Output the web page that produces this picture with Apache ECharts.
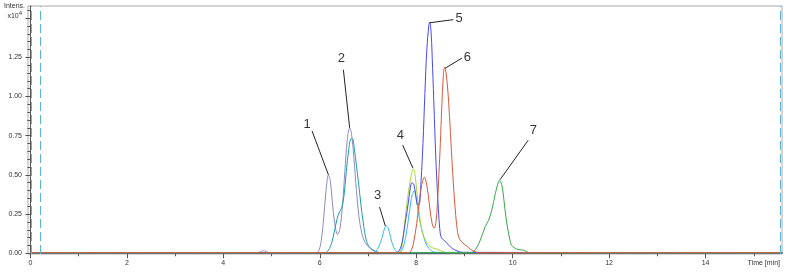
<!DOCTYPE html>
<html>
<head>
<meta charset="utf-8">
<script src="https://cdn.jsdelivr.net/npm/echarts@6/dist/echarts.min.js"></script>
<style>
  html, body { margin: 0; padding: 0; background: #fff; }
  #main { width: 791px; height: 273px; }
</style>
</head>
<body>
<div id="main"></div>
<script>
// chromatogram traces, [time (min), intensity (x10^4)]
var traceGray = [[0,0.004],[4.7,0.004],[4.83,0.016],[4.96,0.004],[5.9,0.004],[5.97,0.01],[6.03,0.08],[6.08,0.22],[6.13,0.40],[6.18,0.50],[6.22,0.46],[6.26,0.33],[6.31,0.19],[6.37,0.12],[6.42,0.16],[6.47,0.30],[6.52,0.52],[6.57,0.72],[6.62,0.80],[6.66,0.76],[6.71,0.60],[6.76,0.40],[6.81,0.24],[6.87,0.13],[6.94,0.07],[7.05,0.03],[7.18,0.01],[7.3,0.004],[15.6,0.004]];
var traceTeal = [[0,0.004],[6.1,0.004],[6.18,0.02],[6.25,0.07],[6.31,0.15],[6.36,0.22],[6.41,0.265],[6.45,0.285],[6.50,0.36],[6.55,0.52],[6.60,0.66],[6.65,0.73],[6.68,0.73],[6.72,0.66],[6.76,0.56],[6.80,0.46],[6.85,0.32],[6.90,0.20],[6.96,0.09],[7.03,0.04],[7.16,0.01],[7.3,0.004],[15.6,0.004]];
var traceCyan = [[0,0.004],[7.05,0.004],[7.15,0.01],[7.22,0.04],[7.29,0.10],[7.34,0.155],[7.38,0.174],[7.42,0.16],[7.47,0.10],[7.53,0.04],[7.60,0.01],[7.66,0.006],[7.72,0.03],[7.78,0.10],[7.84,0.22],[7.90,0.35],[7.96,0.40],[8.00,0.35],[8.05,0.25],[8.10,0.17],[8.16,0.10],[8.22,0.05],[8.30,0.02],[8.40,0.006],[15.6,0.004]];
var traceLime = [[0,0.004],[7.6,0.004],[7.67,0.01],[7.72,0.08],[7.77,0.22],[7.82,0.35],[7.88,0.47],[7.94,0.54],[7.98,0.49],[8.02,0.37],[8.07,0.24],[8.12,0.14],[8.18,0.09],[8.25,0.055],[8.34,0.035],[8.45,0.025],[8.56,0.01],[8.65,0.004],[15.6,0.004]];
var traceBlue = [[0,0.004],[7.55,0.004],[7.63,0.01],[7.70,0.06],[7.77,0.19],[7.83,0.31],[7.88,0.42],[7.91,0.45],[7.95,0.44],[7.99,0.37],[8.03,0.31],[8.06,0.31],[8.10,0.46],[8.14,0.70],[8.18,1.02],[8.22,1.30],[8.26,1.45],[8.28,1.475],[8.31,1.40],[8.34,1.18],[8.37,0.92],[8.40,0.66],[8.43,0.45],[8.46,0.28],[8.49,0.15],[8.52,0.10],[8.57,0.085],[8.62,0.07],[8.68,0.05],[8.75,0.03],[8.85,0.015],[8.95,0.006],[15.6,0.004]];
var traceGreen = [[0,0.004],[9.12,0.004],[9.19,0.01],[9.26,0.04],[9.33,0.085],[9.43,0.17],[9.50,0.21],[9.57,0.28],[9.64,0.38],[9.69,0.44],[9.73,0.467],[9.77,0.44],[9.80,0.39],[9.84,0.28],[9.89,0.17],[9.94,0.09],[9.98,0.05],[10.09,0.026],[10.22,0.02],[10.36,0.004],[15.6,0.004]];
var traceRed = [[0,0.004],[7.82,0.004],[7.88,0.01],[7.94,0.06],[8.01,0.19],[8.06,0.32],[8.11,0.43],[8.17,0.485],[8.21,0.45],[8.25,0.37],[8.29,0.27],[8.33,0.19],[8.37,0.16],[8.41,0.20],[8.44,0.32],[8.47,0.50],[8.50,0.70],[8.53,0.93],[8.56,1.12],[8.59,1.186],[8.62,1.15],[8.66,1.02],[8.70,0.82],[8.74,0.60],[8.78,0.40],[8.82,0.24],[8.86,0.13],[8.90,0.09],[8.97,0.065],[9.05,0.045],[9.13,0.025],[9.22,0.01],[9.3,0.004],[15.6,0.004]];

// peak numbering
var peakNames = ['1', '2', '3', '4', '5', '6', '7'];
var peakTops = [[6.18,0.50],[6.62,0.80],[7.36,0.174],[7.93,0.544],[8.28,1.47],[8.60,1.18],[9.74,0.47]];
var leaderEnds = [[5.84,0.78],[6.49,1.17],[7.24,0.295],[7.72,0.69],[8.77,1.49],[8.95,1.245],[10.32,0.72]];
var namePos = [[5.74,0.825],[6.45,1.245],[7.20,0.367],[7.67,0.75],[8.89,1.50],[9.06,1.25],[10.43,0.785]];

// axis ticks
var yLabels = [0, 0.25, 0.5, 0.75, 1.0, 1.25, 1.5];
var yMinor = [];
for (var i = 0; i <= 31; i++) yMinor.push(+(i * 0.05).toFixed(2));
var xLabels = [0, 2, 4, 6, 8, 10, 12, 14];
var xMinor = [1, 3, 5, 7, 9, 11, 13, 15];
var cursorLines = [0.012, 0.21, 15.54];

var chart = echarts.init(document.getElementById('main'));

function trace(name, data, color) {
    return {
        name: name,
        type: 'line',
        data: data,
        symbol: 'none',
        smooth: 0.35,
        lineStyle: { color: color, width: 1 },
        z: 3
    };
}

var leaders = [];
for (var k = 0; k < peakTops.length; k++) {
    leaders.push([{ coord: peakTops[k] }, { coord: leaderEnds[k] }]);
}

var font = 'Liberation Sans, Arial, sans-serif';

var option = {
    animation: false,
    textStyle: { fontFamily: font },
    grid: {
        left: 28, right: 9, top: 6, bottom: 19,
        show: true, borderColor: '#aaa', borderWidth: 1
    },
    xAxis: [{
        type: 'value', min: -0.05, max: 15.585,
        splitLine: { show: false },
        axisLine: { lineStyle: { color: '#555' } },
        axisTick: { customValues: xLabels, length: 5, lineStyle: { color: '#555' } },
        axisLabel: { customValues: xLabels, fontSize: 7, color: '#333', margin: 6 }
    }, {
        type: 'value', min: -0.05, max: 15.585, position: 'bottom',
        splitLine: { show: false },
        axisLine: { show: false },
        axisTick: { customValues: xMinor, length: 3, lineStyle: { color: '#555' } },
        axisLabel: { show: false }
    }],
    yAxis: [{
        type: 'value', min: -0.0045, max: 1.577,
        splitLine: { show: false },
        axisLine: { show: true, lineStyle: { color: '#555' } },
        axisTick: { customValues: yLabels, length: 5, lineStyle: { color: '#555' } },
        axisLabel: {
            customValues: yLabels, fontSize: 7, color: '#333', margin: 6,
            formatter: function (v) {
                if (Math.abs(v - 1.5) < 1e-6) return '{a|x10}{b|4}';
                return v.toFixed(2);
            },
            rich: {
                a: { fontSize: 7, color: '#333', padding: [0, 0, 4, 0] },
                b: { fontSize: 6, color: '#333', padding: [0, 0, 9, 0] }
            }
        }
    }, {
        type: 'value', min: -0.0045, max: 1.577, position: 'left',
        splitLine: { show: false },
        axisLine: { show: false },
        axisTick: { customValues: yMinor, length: 3, lineStyle: { color: '#555' } },
        axisLabel: { show: false }
    }],
    graphic: [{
        type: 'text', left: 4, top: 3,
        style: { text: 'Intens.', fontSize: 7, fill: '#333', fontFamily: font }
    }, {
        type: 'text', right: 11, top: 260,
        style: { text: 'Time [min]', fontSize: 7, fill: '#333', fontFamily: font }
    }],
    series: [
        trace('gray', traceGray, '#8c8cc2'),
        trace('teal', traceTeal, '#1f9ea3'),
        trace('cyan', traceCyan, '#35b9ec'),
        trace('lime', traceLime, '#a9d83a'),
        trace('blue', traceBlue, '#4848ee'),
        trace('green', traceGreen, '#36a84c'),
        trace('red', traceRed, '#d85a3c'),
        {
            name: 'peaks',
            type: 'scatter',
            data: namePos.map(function (p, i) { return { value: p, name: peakNames[i] }; }),
            symbolSize: 0,
            label: {
                show: true, position: 'inside',
                formatter: function (p) { return p.name; },
                fontSize: 13, color: '#000'
            },
            markLine: {
                silent: true,
                symbol: ['none', 'none'],
                label: { show: false },
                lineStyle: { color: '#222', width: 1, type: 'solid' },
                data: leaders
            },
            z: 5
        },
        {
            name: 'cursors',
            type: 'line',
            data: [],
            markLine: {
                silent: true,
                symbol: ['none', 'none'],
                label: { show: false },
                lineStyle: { color: '#5ab6de', width: 1, type: [9, 4] },
                data: cursorLines.map(function (t) { return { xAxis: t }; })
            }
        }
    ]
};

chart.setOption(option);
</script>
</body>
</html>
